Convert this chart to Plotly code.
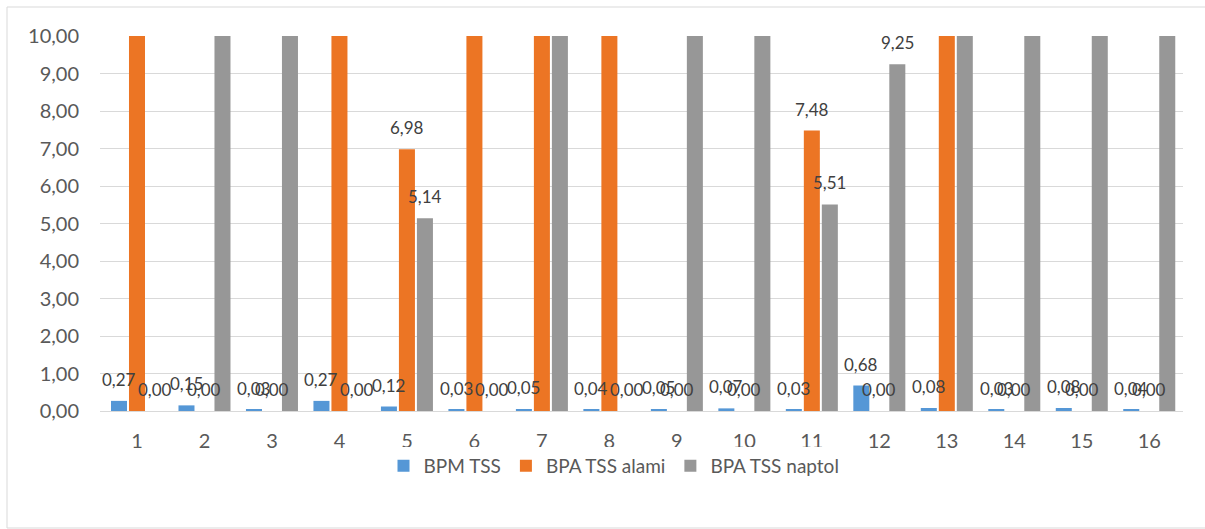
import plotly.graph_objects as go

# Sample numbers 1..16
categories = [str(i) for i in range(1, 17)]

# Series values (bars above 10 run past the top of the axis)
bpm_tss = [0.27, 0.15, 0.03, 0.27, 0.12, 0.03, 0.05, 0.04,
           0.05, 0.07, 0.03, 0.68, 0.08, 0.03, 0.08, 0.04]
bpa_tss_alami = [18.40, 0.00, 0.00, 16.20, 6.98, 21.50, 14.80, 19.30,
                 0.00, 0.00, 7.48, 0.00, 17.60, 0.00, 0.00, 0.00]
bpa_tss_naptol = [0.00, 15.70, 13.90, 0.00, 5.14, 0.00, 12.60, 0.00,
                  16.80, 14.30, 5.51, 9.25, 13.20, 15.10, 12.90, 17.40]

series_names = ["BPM TSS", "BPA TSS alami", "BPA TSS naptol"]
series_values = [bpm_tss, bpa_tss_alami, bpa_tss_naptol]
series_colors = ["#5597D6", "#EC7524", "#979797"]

Y_MAX = 10
y_ticks = list(range(0, 11))
y_tick_labels = [f"{v},00" for v in y_ticks]

BARGAP = 0.2
BARGROUPGAP = 0.11

FONT = "Lato, 'Open Sans', sans-serif"
TEXT_COLOR = "#595959"
LABEL_COLOR = "#404040"

W, H = 1205, 529
M_L, M_R, M_T, M_B = 100, 22, 36, 118
PLOT_W = W - M_L - M_R
PLOT_H = H - M_T - M_B


def fmt(v):
    return f"{v:.2f}".replace(".", ",")


fig = go.Figure()
for name, vals, col in zip(series_names, series_values, series_colors):
    fig.add_trace(go.Bar(
        name=name,
        x=categories,
        y=vals,
        marker=dict(color=col, line=dict(width=0)),
        hoverinfo="x+y+name",
    ))

# Value labels above each bar; values past the axis maximum stay unlabelled
n_series = len(series_values)
slot = (1 - BARGAP) / n_series
annotations = []
for k, vals in enumerate(series_values):
    offset = (k - (n_series - 1) / 2) * slot
    for i, v in enumerate(vals):
        if v > Y_MAX:
            continue
        annotations.append(dict(
            x=i + offset, y=v, xref="x", yref="y",
            text=fmt(v), showarrow=False,
            xanchor="center", yanchor="bottom", yshift=9,
            font=dict(family=FONT, size=17, color=LABEL_COLOR),
        ))

fig.update_layout(
    width=W,
    height=H,
    barmode="group",
    bargap=BARGAP,
    bargroupgap=BARGROUPGAP,
    plot_bgcolor="white",
    paper_bgcolor="white",
    margin=dict(l=M_L, r=M_R, t=M_T, b=M_B),
    font=dict(family=FONT, color=TEXT_COLOR),
    showlegend=True,
    legend=dict(
        orientation="h",
        x=(614 - M_L) / PLOT_W, xanchor="center",
        y=-55 / PLOT_H, yanchor="middle",
        font=dict(family=FONT, size=19, color=TEXT_COLOR),
        itemwidth=30,
        traceorder="normal",
    ),
    xaxis=dict(
        type="category",
        showgrid=False,
        showline=True,
        linecolor="#D9D9D9",
        linewidth=1,
        ticks="",
        tickfont=dict(family=FONT, size=20, color=TEXT_COLOR),
        ticklabelstandoff=12,
    ),
    yaxis=dict(
        range=[0, Y_MAX],
        tickvals=y_ticks,
        ticktext=y_tick_labels,
        showgrid=True,
        gridcolor="#D9D9D9",
        gridwidth=1,
        zeroline=False,
        showline=False,
        ticks="",
        tickfont=dict(family=FONT, size=20, color=TEXT_COLOR),
        ticklabelstandoff=20,
    ),
    annotations=annotations,
    shapes=[dict(
        type="rect", xref="paper", yref="paper",
        x0=-(M_L - 7) / PLOT_W, x1=1 + (M_R + 10) / PLOT_W,
        y0=-(M_B - 1) / PLOT_H, y1=1 + (M_T - 7) / PLOT_H,
        line=dict(color="#D9D9D9", width=1),
        fillcolor="rgba(0,0,0,0)",
        layer="below",
    )],
)

fig.write_html("out.html")
